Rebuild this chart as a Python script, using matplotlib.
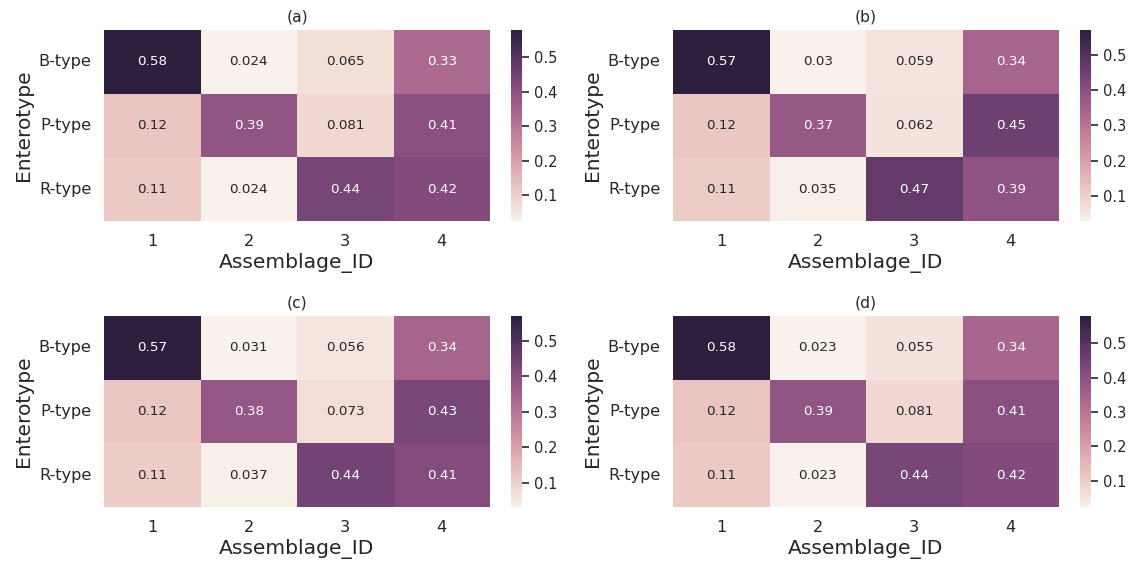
import numpy as np
import matplotlib
matplotlib.use("Agg")
import matplotlib.pyplot as plt
from matplotlib.ticker import MultipleLocator
import seaborn as sns

enterotypes = ["B-type", "P-type", "R-type"]
assemblages = ["1", "2", "3", "4"]
titles = ["(a)", "(b)", "(c)", "(d)"]

vals_a = [[0.58, 0.024, 0.065, 0.33],
          [0.12, 0.39, 0.081, 0.41],
          [0.11, 0.024, 0.44, 0.42]]
vals_b = [[0.57, 0.03, 0.059, 0.34],
          [0.12, 0.37, 0.062, 0.45],
          [0.11, 0.035, 0.47, 0.39]]
vals_c = [[0.57, 0.031, 0.056, 0.34],
          [0.12, 0.38, 0.073, 0.43],
          [0.11, 0.037, 0.44, 0.41]]
vals_d = [[0.58, 0.023, 0.055, 0.34],
          [0.12, 0.39, 0.081, 0.41],
          [0.11, 0.023, 0.44, 0.42]]

sns.set_theme(style="white")
plt.rcParams['font.family'] = ['DejaVu Sans']

cmap = sns.cubehelix_palette(light=0.95, dark=0.15, as_cmap=True)

W, H = 1137, 565
fig = plt.figure(figsize=(W / 100, H / 100), dpi=100)

# pixel boxes: (left, top, right, bottom) of each heatmap
lefts = [104, 673, 104, 673]
tops = [30, 30, 316, 316]
hm_w, hm_h = 386, 191
cb_gap, cb_w = 21, 11

for i, (vals, t) in enumerate(zip([vals_a, vals_b, vals_c, vals_d], titles)):
    l, tp = lefts[i], tops[i]
    ax = fig.add_axes([l / W, 1 - (tp + hm_h) / H, hm_w / W, hm_h / H])
    cax = fig.add_axes([(l + hm_w + cb_gap) / W, 1 - (tp + hm_h) / H, cb_w / W, hm_h / H])
    sns.heatmap(np.array(vals), ax=ax, cbar_ax=cax, cmap=cmap, annot=True,
                annot_kws={"fontsize": 9.7},
                xticklabels=assemblages, yticklabels=enterotypes)
    ax.set_title(t, fontsize=11.2)
    ax.set_xlabel("Assemblage_ID", fontsize=14.6, labelpad=3)
    ax.set_ylabel("Enterotype", fontsize=14.6, labelpad=4)
    ax.tick_params(axis="both", labelsize=11.6, length=0, pad=9)
    ax.set_yticklabels(enterotypes, rotation=0)
    cax.yaxis.set_major_locator(MultipleLocator(0.1))
    cax.tick_params(labelsize=10.5, length=5, width=1.2, color="#262626")
    for s in cax.spines.values():
        s.set_visible(False)

fig.savefig("out.png", dpi=100)
